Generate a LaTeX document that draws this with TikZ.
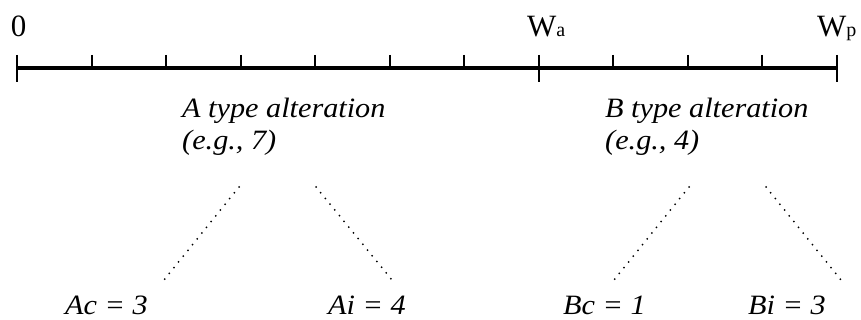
\documentclass[tikz,border=0pt]{standalone}
\usepackage{fontspec}
\setmainfont{Liberation Serif}[ItalicFeatures={FakeStretch=1.08}]
\begin{document}
\begin{tikzpicture}[x=1pt,y=-1pt,
  axisline/.style={line width=3.2pt},
  longtick/.style={line width=2pt},
  shorttick/.style={line width=2pt},
  dotline/.style={line width=2pt, line cap=round, dash pattern=on 0pt off 7.4pt},
  toplabel/.style={inner sep=0pt, anchor=base west, font=\fontsize{31}{34}\selectfont},
  midlabel/.style={inner sep=0pt, anchor=base west, font=\fontsize{28}{31}\selectfont\itshape},
  botlabel/.style={inner sep=0pt, anchor=base west, font=\fontsize{28}{31}\selectfont\itshape}]
\useasboundingbox (0,0) rectangle (861,320);
% axis
\coordinate (L) at (17,68);
\coordinate (R) at (837,68);
\draw[axisline] (L) -- (R);
\foreach \i in {1,...,6,8,9,10} {
  \draw[shorttick] ({17+\i*74.545},55) -- ({17+\i*74.545},68);
}
\foreach \i in {0,7,11} {
  \draw[longtick] ({17+\i*74.545},55) -- ({17+\i*74.545},82);
}
% top labels
\node[toplabel, anchor=base] (zero) at (18.5,37) {0};
\node[toplabel] (wa) at (527,37) {W{\fontsize{20}{22}\selectfont a}};
\node[toplabel] (wp) at (817,37) {W{\fontsize{20}{22}\selectfont p}};
% middle labels
\node[midlabel] (atype) at (182,118) {A type alteration};
\node[midlabel] (aeg) at (182,150) {(e.g., 7)};
\node[midlabel] (btype) at (605,118) {B type alteration};
\node[midlabel] (beg) at (605,150) {(e.g., 4)};
% bottom labels
\node[botlabel] (ac) at (65,314) {Ac = 3};
\node[botlabel] (ai) at (328,314) {Ai = 4};
\node[botlabel] (bc) at (563,314) {Bc = 1};
\node[botlabel] (bi) at (748,314) {Bi = 3};
% dotted connectors
\coordinate (a1t) at (239,187); \coordinate (a1b) at (164,280);
\coordinate (a2t) at (316,187); \coordinate (a2b) at (392,280);
\coordinate (b1t) at (689,187); \coordinate (b1b) at (614,280);
\coordinate (b2t) at (766,187); \coordinate (b2b) at (841,280);
\draw[dotline] (a1t) -- (a1b);
\draw[dotline] (a2t) -- (a2b);
\draw[dotline] (b1t) -- (b1b);
\draw[dotline] (b2t) -- (b2b);
\end{tikzpicture}
\end{document}
